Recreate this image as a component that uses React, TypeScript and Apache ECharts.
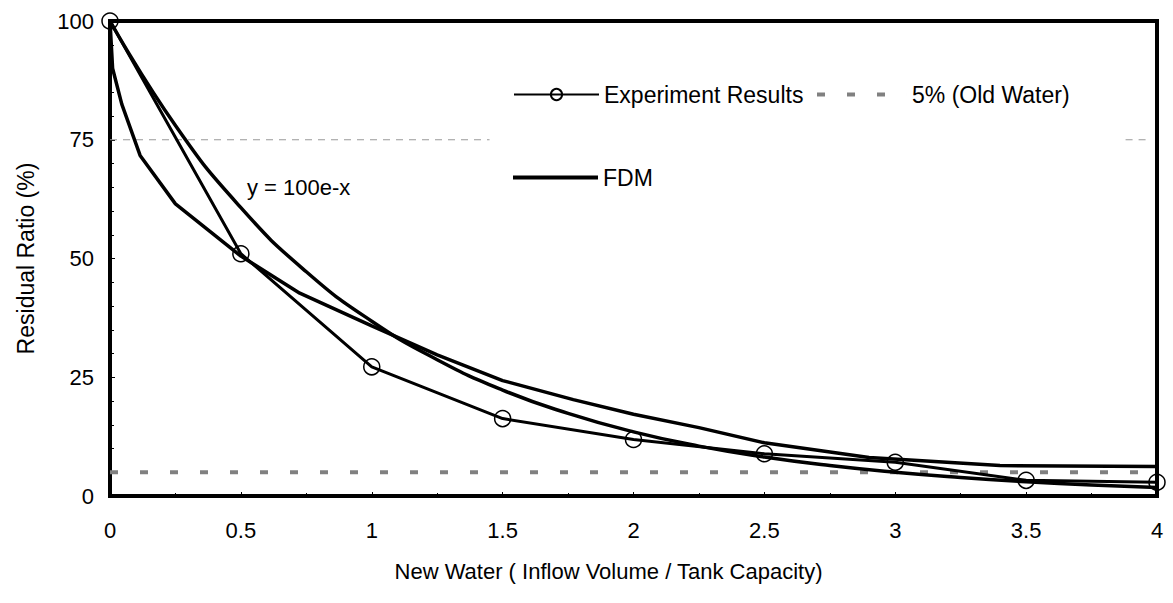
import React, { useEffect, useRef } from "react";
import * as echarts from "echarts";

const xTicks = [0, 0.5, 1, 1.5, 2, 2.5, 3, 3.5, 4];
const experimentX = [0, 0.5, 1, 1.5, 2, 2.5, 3, 3.5, 4];
const experimentY = [100, 51, 27.2, 16.3, 11.9, 8.9, 7.1, 3.3, 2.9];
const fdmX = [0, 0.01, 0.045, 0.115, 0.25, 0.5, 0.725, 1.0, 1.25, 1.5, 1.77, 2.0, 2.25, 2.5, 2.9, 3.4, 4.0];
const fdmY = [100, 90, 82.5, 71.7, 61.5, 50.5, 42.7, 35.8, 29.7, 24.3, 20.3, 17.2, 14.4, 11.2, 8.1, 6.4, 6.2];
const expCurveX = [0, 0.25, 0.5, 0.75, 1, 1.25, 1.5, 1.75, 2, 2.25, 2.5, 2.75, 3, 3.25, 3.5, 3.75, 4];
const expCurveY = [100, 78, 60.7, 47.2, 36.8, 28.7, 22.3, 17.4, 13.5, 10.5, 8.2, 6.4, 5.0, 3.9, 3.0, 2.3, 1.8];
const oldWaterX = [0, 4];
const oldWaterY = [5, 5];
const grayLineA = [[0, 75], [1.45, 75]];
const grayLineB = [[3.88, 75], [3.97, 75]];

const FONT = "Liberation Sans, Arial, sans-serif";

const zip = (xs: number[], ys: number[]) => xs.map((x, i) => [x, ys[i]]);

export default function App() {
  const ref = useRef<HTMLDivElement>(null);
  useEffect(() => {
    document.body.style.margin = "0";
    if (!ref.current) return;
    const chart = echarts.init(ref.current, null, { renderer: "svg" });
    chart.setOption({
      animation: false,
      backgroundColor: "#fff",
      grid: {
        left: 110,
        top: 21,
        right: 16,
        bottom: 107,
        show: true,
        borderColor: "#000",
        borderWidth: 4,
      },
      xAxis: {
        type: "value",
        min: 0,
        max: 4,
        interval: 0.5,
        name: "New Water ( Inflow Volume / Tank Capacity)",
        nameLocation: "middle",
        nameGap: 64,
        nameTextStyle: { fontFamily: FONT, fontSize: 22, color: "#000", padding: [0, 50, 0, 0] },
        axisLine: { show: true, lineStyle: { color: "#000", width: 4 } },
        axisTick: { show: true, inside: true, length: 4, lineStyle: { color: "#000", width: 1 } },
        minorTick: { show: true, splitNumber: 2, length: 3, lineStyle: { color: "#000", width: 1 } },
        splitLine: { show: false },
        axisLabel: {
          margin: 23,
          fontFamily: FONT,
          fontSize: 22,
          color: "#000",
          formatter: (v: number) => (xTicks.includes(v) ? String(v) : ""),
        },
      },
      yAxis: {
        type: "value",
        min: 0,
        max: 100,
        interval: 25,
        name: "Residual Ratio (%)",
        nameLocation: "middle",
        nameGap: 73,
        nameTextStyle: { fontFamily: FONT, fontSize: 23, color: "#000" },
        axisLine: { show: true, lineStyle: { color: "#000", width: 4 } },
        axisTick: { show: true, inside: true, length: 5, lineStyle: { color: "#000", width: 1 } },
        minorTick: { show: true, splitNumber: 5, length: 4, lineStyle: { color: "#000", width: 1 } },
        splitLine: { show: false },
        axisLabel: { margin: 16, fontFamily: FONT, fontSize: 22, color: "#000" },
      },
      legend: [
        {
          data: ["Experiment Results"],
          left: 513,
          top: 83,
          padding: 0,
          itemWidth: 85,
          itemHeight: 14,
          selectedMode: false,
          textStyle: { fontFamily: FONT, fontSize: 23, color: "#000" },
        },
        {
          data: [
            {
              name: "5% (Old Water)",
              icon: "path://M0,0h8v4h-8zM30,0h8v4h-8zM60,0h8v4h-8zM90,0h0.01v4h-0.01z",
            },
          ],
          left: 817,
          top: 83,
          padding: 0,
          itemWidth: 90,
          itemHeight: 4,
          selectedMode: false,
          textStyle: { fontFamily: FONT, fontSize: 23, color: "#000" },
        },
        {
          data: [{ name: "FDM", icon: "rect" }],
          left: 513,
          top: 166,
          padding: 0,
          itemWidth: 85,
          itemHeight: 4,
          selectedMode: false,
          textStyle: { fontFamily: FONT, fontSize: 23, color: "#000" },
        },
      ],
      graphic: [
        {
          type: "text",
          left: 247,
          top: 176,
          style: { text: "y = 100e-x", fontFamily: FONT, fontSize: 22, fill: "#000" },
        },
      ],
      series: [
        {
          type: "line",
          silent: true,
          data: grayLineA,
          symbol: "none",
          lineStyle: { color: "#999", width: 1, type: [7, 6] },
        },
        {
          type: "line",
          silent: true,
          data: grayLineB,
          symbol: "none",
          lineStyle: { color: "#999", width: 1, type: [7, 6] },
        },
        {
          name: "5% (Old Water)",
          type: "line",
          data: zip(oldWaterX, oldWaterY),
          symbol: "none",
          lineStyle: { color: "#808080", width: 4, type: [8, 22] },
          itemStyle: { color: "#808080" },
        },
        {
          name: "y = 100e-x",
          type: "line",
          data: zip(expCurveX, expCurveY),
          smooth: true,
          symbol: "none",
          lineStyle: { color: "#000", width: 3.5 },
        },
        {
          name: "FDM",
          type: "line",
          data: zip(fdmX, fdmY),
          symbol: "none",
          lineStyle: { color: "#000", width: 3.5 },
          itemStyle: { color: "#000" },
        },
        {
          name: "Experiment Results",
          type: "line",
          data: zip(experimentX, experimentY),
          symbol: "circle",
          symbolSize: 16,
          showSymbol: true,
          lineStyle: { color: "#000", width: 3 },
          itemStyle: { color: "rgba(255,255,255,0)", borderColor: "#000", borderWidth: 1.5 },
        },
      ],
    });
    return () => chart.dispose();
  }, []);
  return <div ref={ref} style={{ width: 1173, height: 603 }} />;
}
